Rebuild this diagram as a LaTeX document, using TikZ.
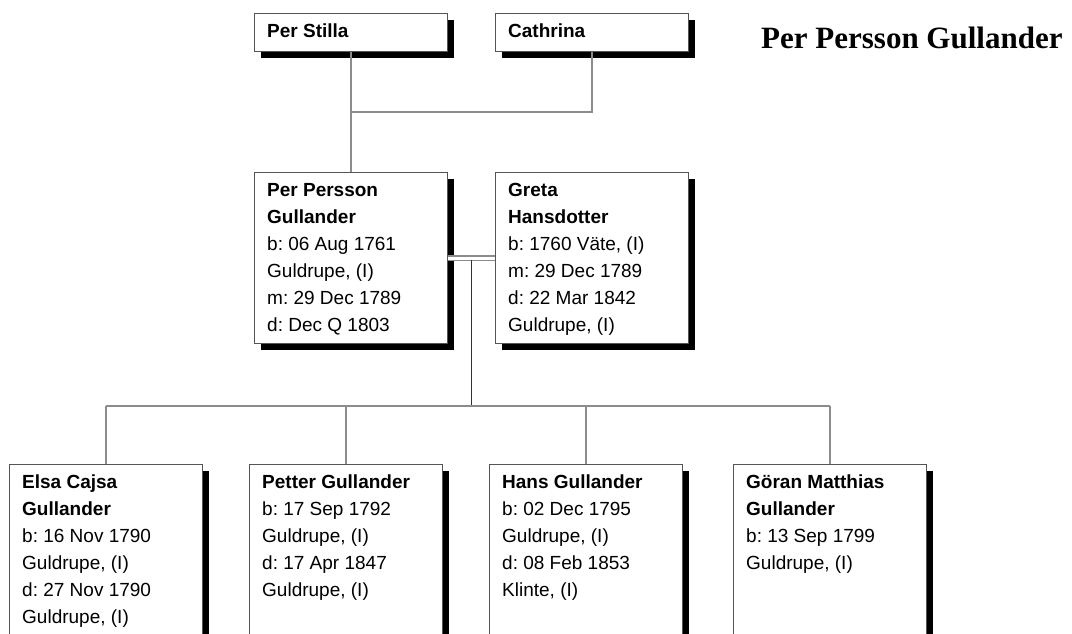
\documentclass[tikz,border=0pt]{standalone}
\usepackage{fontspec}
\setmainfont{Liberation Sans}
\newfontfamily\titlefont{Liberation Serif}
\frenchspacing
\usepackage{tikz}
\usetikzlibrary{shadows,calc}
\definecolor{boxline}{rgb}{0.33,0.33,0.33}
\definecolor{linkgray}{rgb}{0.55,0.55,0.55}
\definecolor{stemgray}{rgb}{0.2,0.2,0.2}

\tikzset{
  card/.style={draw=boxline, line width=1.3pt, fill=white, inner sep=0pt,
    anchor=north west, minimum width=193pt, minimum height=#1,
    drop shadow={opacity=1, fill=black, shadow xshift=6pt, shadow yshift=-6pt}},
  info/.style={anchor=north west, align=left, inner sep=0pt,
    font=\fontsize{19}{27}\selectfont},
  link/.style={draw=linkgray, line width=1.5pt},
  stem/.style={draw=stemgray, line width=1.5pt},
  marr/.style={draw=linkgray, line width=1.2pt, double=white, double distance=3.2pt}
}

\begin{document}
\begin{tikzpicture}[x=1pt,y=-1pt]
\useasboundingbox (0,0) rectangle (1072,633);
\clip (0,0) rectangle (1072,633);

% grandparents
\node[card=38pt] (pstilla) at (254,13) {};
\node[card=38pt] (cathrina) at (495,13) {};
\node[info] (pstilla-t) at ($(pstilla.north west)+(13,5.1)$) {\strut\textbf{Per Stilla}};
\node[info] (cathrina-t) at ($(cathrina.north west)+(13,5.1)$) {\strut\textbf{Cathrina}};

% couple
\node[card=171pt] (perp) at (254,172) {};
\node[card=171pt] (greta) at (495,172) {};
\node[info] (perp-t) at ($(perp.north west)+(13,5.1)$) {\strut\textbf{Per Persson}\\
  \textbf{Gullander}\\ b: 06 Aug 1761\\ Guldrupe, (I)\\ m: 29 Dec 1789\\ d: Dec Q 1803};
\node[info] (greta-t) at ($(greta.north west)+(13,5.1)$) {\strut\textbf{Greta}\\
  \textbf{Hansdotter}\\ b: 1760 Väte, (I)\\ m: 29 Dec 1789\\ d: 22 Mar 1842\\ Guldrupe, (I)};

% children
\node[card=200pt] (elsa) at (9,464) {};
\node[card=200pt] (petter) at (249,464) {};
\node[card=200pt] (hans) at (489,464) {};
\node[card=200pt] (goran) at (733,464) {};
\node[info] (elsa-t) at ($(elsa.north west)+(13,5.1)$) {\strut\textbf{Elsa Cajsa}\\
  \textbf{Gullander}\\ b: 16 Nov 1790\\ Guldrupe, (I)\\ d: 27 Nov 1790\\ Guldrupe, (I)};
\node[info] (petter-t) at ($(petter.north west)+(13,5.1)$) {\strut\textbf{Petter Gullander}\\
  b: 17 Sep 1792\\ Guldrupe, (I)\\ d: 17 Apr 1847\\ Guldrupe, (I)};
\node[info] (hans-t) at ($(hans.north west)+(13,5.1)$) {\strut\textbf{Hans Gullander}\\
  b: 02 Dec 1795\\ Guldrupe, (I)\\ d: 08 Feb 1853\\ Klinte, (I)};
\node[info] (goran-t) at ($(goran.north west)+(13,5.1)$) {\strut\textbf{Göran Matthias}\\
  \textbf{Gullander}\\ b: 13 Sep 1799\\ Guldrupe, (I)};

% title
\node[anchor=base west, inner sep=0pt, font=\titlefont\bfseries\fontsize{31}{36}\selectfont]
  (title) at (761,48) {Per Persson Gullander};

% connectors
\coordinate (pj) at (pstilla.south |- 0,112);
\draw[link] (pstilla.south) -- (perp.north);
\draw[link] (cathrina.south) |- (pj);
\draw[marr] (perp.east) -- (greta.west);
\coordinate (wed) at ($(perp.east)!0.5!(greta.west)$);
\coordinate (fam) at (wed |- 0,406);
\draw[stem] ([yshift=-2pt]wed) -- (fam);
\draw[link] (elsa.north |- fam) -- (goran.north |- fam);
\foreach \c in {elsa,petter,hans,goran}
  \draw[link] (\c.north) -- (\c.north |- fam);
\end{tikzpicture}
\end{document}
